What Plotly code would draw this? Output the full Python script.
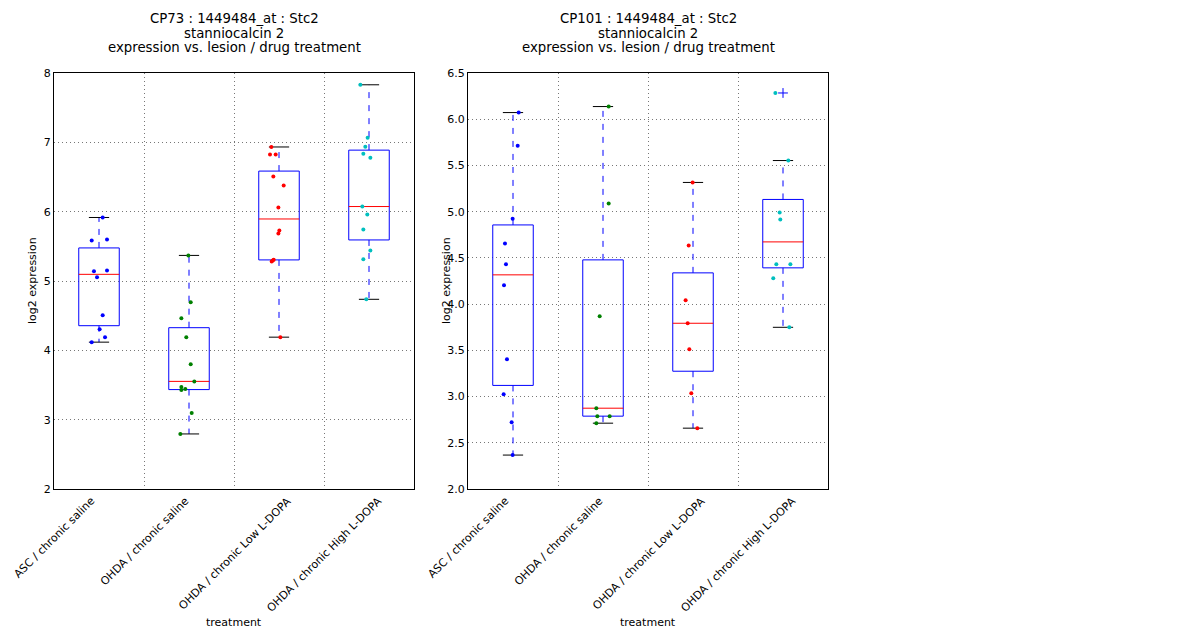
import numpy as np
import plotly.graph_objects as go

categories = ["ASC / chronic saline", "OHDA / chronic saline",
              "OHDA / chronic Low L-DOPA", "OHDA / chronic High L-DOPA"]
colors = ["#0000ff", "#008000", "#ff0000", "#00bfbf"]

# CP73 values per group and the x jitter of each dot
cp73_asc = [5.916, 5.585, 5.600, 5.139, 5.153, 5.053, 4.506, 4.305, 4.190, 4.118]
cp73_asc_dx = [0.041, -0.081, 0.089, -0.056, 0.089, -0.022, 0.041, 0.007, 0.067, -0.081]
cp73_sal = [5.369, 4.693, 4.463, 4.190, 3.801, 3.552, 3.470, 3.427, 3.441, 3.096, 2.794]
cp73_sal_dx = [-0.007, 0.019, -0.085, -0.03, 0.019, 0.059, -0.085, -0.085, -0.041, 0.030, -0.096]
cp73_low = [6.933, 6.823, 6.823, 6.506, 6.376, 6.060, 5.729, 5.686, 5.307, 5.283, 5.295, 4.190]
cp73_low_dx = [-0.085, -0.1, -0.037, -0.063, 0.052, -0.007, 0.004, -0.007, -0.059, -0.081, -0.07, 0.015]
cp73_high = [7.830, 7.067, 6.938, 6.837, 6.779, 6.074, 5.959, 5.743, 5.441, 5.312, 4.736]
cp73_high_dx = [-0.096, -0.015, -0.041, -0.063, 0.015, -0.074, -0.019, -0.063, 0.015, -0.063, -0.03]

# CP101 values per group
cp101_asc = [6.072, 5.712, 4.923, 4.657, 4.430, 4.203, 3.404, 3.026, 2.723, 2.367]
cp101_asc_dx = [0.063, 0.052, -0.004, -0.089, -0.078, -0.1, -0.067, -0.104, -0.015, -0.004]
cp101_sal = [6.137, 5.089, 3.868, 2.874, 2.788, 2.788, 2.712]
cp101_sal_dx = [0.063, 0.063, -0.037, -0.074, -0.063, 0.074, -0.074]
cp101_low = [5.316, 4.635, 4.041, 3.793, 3.512, 3.036, 2.658]
cp101_low_dx = [-0.004, -0.048, -0.082, -0.059, -0.041, -0.019, 0.048]
cp101_high = [6.284, 5.553, 4.992, 4.916, 4.430, 4.430, 4.279, 3.749]
cp101_high_dx = [-0.085, 0.059, -0.037, -0.03, -0.074, 0.082, -0.108, 0.070]

panels = [
    ("CP73", [cp73_asc, cp73_sal, cp73_low, cp73_high],
     [cp73_asc_dx, cp73_sal_dx, cp73_low_dx, cp73_high_dx]),
    ("CP101", [cp101_asc, cp101_sal, cp101_low, cp101_high],
     [cp101_asc_dx, cp101_sal_dx, cp101_low_dx, cp101_high_dx]),
]

W, H = 1200, 640
box_w = 0.45
cap_w = 0.225
label_nudge = [0, 4, 16, 17]  # px, where the rotated labels end in the original

fig = go.Figure()


def line(fig, xs, ys, color, dash="solid", ax=""):
    fig.add_trace(go.Scatter(x=xs, y=ys, mode="lines", xaxis="x" + ax, yaxis="y" + ax,
                             line=dict(color=color, width=1, dash=dash),
                             hoverinfo="skip", showlegend=False))


for p, (name, groups, jitter) in enumerate(panels):
    ax = "" if p == 0 else "2"
    for i, vals in enumerate(groups):
        c = i + 1
        v = np.array(vals)
        q1, med, q3 = np.percentile(v, [25, 50, 75])
        iqr = q3 - q1
        hi = v[v <= q3 + 1.5 * iqr].max()
        lo = v[v >= q1 - 1.5 * iqr].min()
        fliers = v[(v > hi) | (v < lo)]
        l, r = c - box_w / 2, c + box_w / 2
        line(fig, [l, r, r, l, l], [q1, q1, q3, q3, q1], "#0000ff", ax=ax)
        line(fig, [l, r], [med, med], "#ff0000", ax=ax)
        line(fig, [c, c], [q3, hi], "#0000ff", dash="6px,7px", ax=ax)
        line(fig, [c, c], [q1, lo], "#0000ff", dash="6px,7px", ax=ax)
        line(fig, [c - cap_w / 2, c + cap_w / 2], [hi, hi], "black", ax=ax)
        line(fig, [c - cap_w / 2, c + cap_w / 2], [lo, lo], "black", ax=ax)
        if len(fliers):
            fig.add_trace(go.Scatter(x=[c] * len(fliers), y=fliers, mode="markers",
                                     xaxis="x" + ax, yaxis="y" + ax,
                                     marker=dict(symbol="cross-thin", size=7,
                                                 line=dict(color="#0000ff", width=1)),
                                     showlegend=False))
    for i, vals in enumerate(groups):
        fig.add_trace(go.Scatter(x=[i + 1 + d for d in jitter[i]], y=vals, mode="markers",
                                 xaxis="x" + ax, yaxis="y" + ax,
                                 marker=dict(color=colors[i], size=4),
                                 showlegend=False))
    # category labels, rotated like matplotlib's ha="right" ticks
    for i, cat in enumerate(categories):
        fig.add_annotation(text=cat, x=i + 1, y=0, xref="x" + ax, yref="y" + ax + " domain",
                           xanchor="right", yanchor="top", textangle=-45, showarrow=False,
                           xshift=label_nudge[i], yshift=-4, borderpad=0,
                           font=dict(family="DejaVu Sans", size=11, color="black"))

font = dict(family="DejaVu Sans", size=11, color="black")
grid = dict(gridcolor="#777777", griddash="1px,3px", gridwidth=1)
xcommon = dict(range=[0.5, 4.5], tickmode="array", tickvals=[1, 2, 3, 4],
               showticklabels=False, showgrid=False, zeroline=False, showline=True, mirror=True,
               linecolor="black", linewidth=1, ticks="", automargin=False,
               minor=dict(grid, tickvals=[1.5, 2.5, 3.5], showgrid=True, ticks=""))
ycommon = dict(grid, showgrid=True, zeroline=False, automargin=False,
               showline=True, mirror=True, linecolor="black", linewidth=1, ticks="",
               tickfont=font)

panel_x = [(54, 414), (468, 828)]
top, bot = 73, 489
fig.update_layout(
    width=W, height=H, margin=dict(l=0, r=0, t=0, b=0),
    paper_bgcolor="white", plot_bgcolor="white",
    xaxis=dict(xcommon, domain=[panel_x[0][0] / W, panel_x[0][1] / W], anchor="y"),
    yaxis=dict(ycommon, domain=[1 - bot / H, 1 - top / H], range=[2, 8], dtick=1, anchor="x"),
    xaxis2=dict(xcommon, domain=[panel_x[1][0] / W, panel_x[1][1] / W], anchor="y2"),
    yaxis2=dict(ycommon, domain=[1 - bot / H, 1 - top / H], range=[2, 6.5], dtick=0.5,
                tickformat=".1f", anchor="x2"),
)

title_lines = ["{} : 1449484_at : Stc2", "stanniocalcin 2", "expression vs. lesion / drug treatment"]
for p, (name, _, _) in enumerate(panels):
    cx = (panel_x[p][0] + panel_x[p][1]) / 2 / W
    for k, (txt, yy) in enumerate(zip(title_lines, [19, 33.5, 48])):
        fig.add_annotation(text=txt.format(name), x=cx, y=1 - yy / H, xref="paper", yref="paper",
                           showarrow=False, xanchor="center", yanchor="middle",
                           font=dict(family="DejaVu Sans", size=13.3, color="black"))
    fig.add_annotation(text="treatment", x=cx, y=1 - 622 / H, xref="paper", yref="paper",
                       showarrow=False, xanchor="center", yanchor="middle", font=font)
    fig.add_annotation(text="log2 expression", x=(panel_x[p][0] - 22) / W, y=1 - 281 / H,
                       xref="paper", yref="paper", showarrow=False, textangle=-90,
                       xanchor="center", yanchor="middle", font=font)

fig.write_html("out.html", post_script="document.body.style.margin='0';",
               config={"displayModeBar": False})
